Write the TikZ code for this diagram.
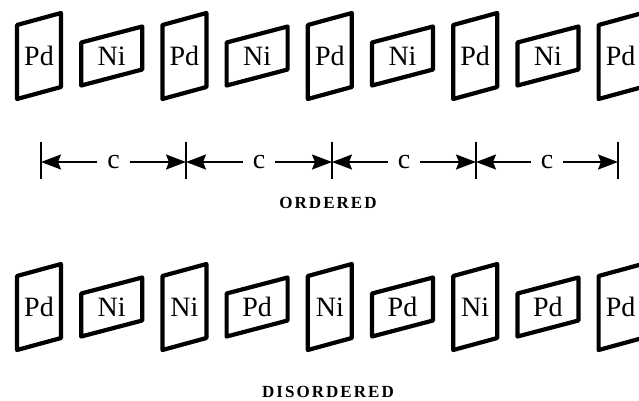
\documentclass[tikz,border=0pt]{standalone}
\usepackage{fontspec}
\setmainfont{Liberation Serif}
\usetikzlibrary{arrows.meta,calc}
\tikzset{
  cell/.style={line width=4.2pt, line join=round},
  lbl/.style={font=\fontsize{28}{28}\selectfont, inner sep=0pt},
  tallcell/.pic={
    \draw[cell] (-22,-31) -- (22,-43) -- (22,31) -- (-22,43) -- cycle;
    \node[lbl] (-t) at (0,0) {#1};
  },
  widecell/.pic={
    \draw[cell] (-30.5,-13.5) -- (30.5,-29.5) -- (30.5,13.5) -- (-30.5,29.5) -- cycle;
    \node[lbl] (-t) at (0,0) {#1};
  },
  tickline/.style={line width=2pt},
  dimline/.style={line width=1.8pt, -{Stealth[length=20pt,width=15pt,inset=3pt]}},
  cnode/.style={font=\fontsize{28}{28}\selectfont, inner xsep=10pt, inner ysep=0pt},
  caption/.style={font=\fontsize{17}{17}\selectfont\bfseries\addfontfeature{LetterSpace=12}},
}
\begin{document}
\begin{tikzpicture}[x=1pt,y=-1pt]
\clip (0,0) rectangle (639,400);
% ordered row
\pic (a0) at (39,56) {tallcell=Pd};
\pic (a1) at (111.7,56) {widecell=Ni};
\pic (a2) at (184.4,56) {tallcell=Pd};
\pic (a3) at (257.1,56) {widecell=Ni};
\pic (a4) at (329.8,56) {tallcell=Pd};
\pic (a5) at (402.5,56) {widecell=Ni};
\pic (a6) at (475.2,56) {tallcell=Pd};
\pic (a7) at (547.9,56) {widecell=Ni};
\pic (a8) at (620.6,56) {tallcell=Pd};
% dimension line
\coordinate (d0) at (41,162);
\coordinate (d1) at (186,162);
\coordinate (d2) at (332,162);
\coordinate (d3) at (476,162);
\coordinate (d4) at (618,162);
\foreach \d in {d0,d1,d2,d3,d4}
  \draw[tickline] ([yshift=20pt]\d) -- ([yshift=-17pt]\d);
\node[cnode] (c1) at ($(d0)!0.5!(d1)$) {c};
\node[cnode] (c2) at ($(d1)!0.5!(d2)$) {c};
\node[cnode] (c3) at ($(d2)!0.5!(d3)$) {c};
\node[cnode] (c4) at ($(d3)!0.5!(d4)$) {c};
\draw[dimline] (c1) -- (d0);
\draw[dimline] (c1) -- (d1);
\draw[dimline] (c2) -- (d1);
\draw[dimline] (c2) -- (d2);
\draw[dimline] (c3) -- (d2);
\draw[dimline] (c3) -- (d3);
\draw[dimline] (c4) -- (d3);
\draw[dimline] (c4) -- (d4);
\node[caption] (ord) at (328,202.5) {ORDERED};
% disordered row
\pic (b0) at (39,307) {tallcell=Pd};
\pic (b1) at (111.7,307) {widecell=Ni};
\pic (b2) at (184.4,307) {tallcell=Ni};
\pic (b3) at (257.1,307) {widecell=Pd};
\pic (b4) at (329.8,307) {tallcell=Ni};
\pic (b5) at (402.5,307) {widecell=Pd};
\pic (b6) at (475.2,307) {tallcell=Ni};
\pic (b7) at (547.9,307) {widecell=Pd};
\pic (b8) at (620.6,307) {tallcell=Pd};
\node[caption] (dis) at (328,392) {DISORDERED};
\end{tikzpicture}
\end{document}
